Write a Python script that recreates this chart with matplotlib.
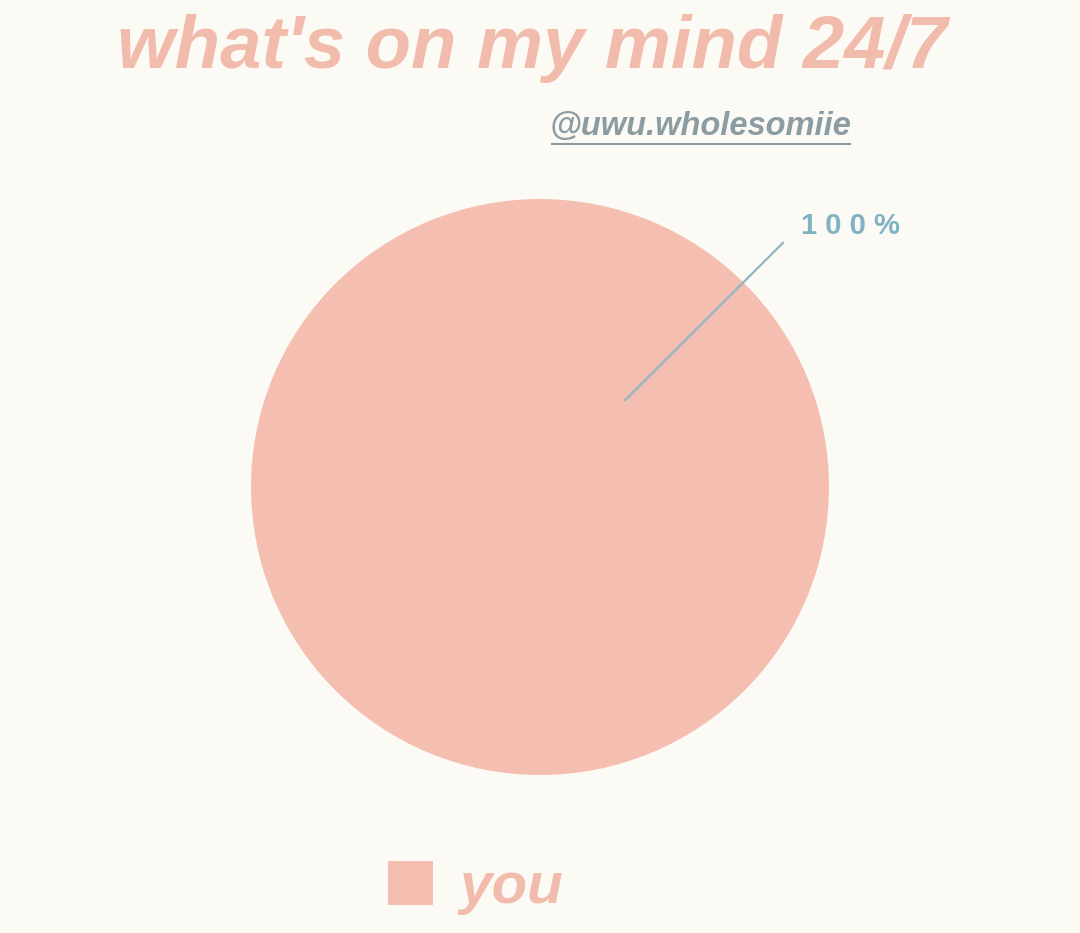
import matplotlib
matplotlib.use("Agg")
import matplotlib.pyplot as plt
from matplotlib.lines import Line2D

# data
labels = ["you"]
values = [100]
colors = ["#f4bfb1"]
title = "what's on my mind 24/7"
handle = "@uwu.wholesomiie"

bg = "#fcfaf5"
title_col = "#f2bcad"
pct_col = "#7fb2c2"
handle_col = "#8c9ca3"

plt.rcParams['font.family'] = ['Liberation Sans', 'DejaVu Sans']

fig = plt.figure(figsize=(10.8, 9.33), dpi=100, facecolor=bg)
ax = fig.add_axes([251/1080, 1-775/933, 578/1080, 576/933])
ax.set_facecolor(bg)

wedges, _ = ax.pie(values, colors=colors, startangle=90, radius=1,
                   wedgeprops=dict(linewidth=0))
ax.set_xlim(-1, 1)
ax.set_ylim(-1, 1)
ax.set_aspect('auto')
ax.axis('off')

# leader line + percent label
pct = "%d%%" % values[0]
ax.annotate("", xy=(0.294, 0.301), xytext=(0.841, 0.848),
            arrowprops=dict(arrowstyle='-', color="#8fb6c2", lw=1.6,
                            shrinkA=0, shrinkB=0),
            annotation_clip=False)
ax.text(1.073, 0.907, " ".join(pct), color=pct_col, fontsize=21,
        fontweight='bold', ha='center', va='center', clip_on=False)

fig.text(0.493, 0.927, title, ha='center', va='baseline', color=title_col,
         fontsize=53.5, fontweight='bold', fontstyle='italic')

t = fig.text(0.649, 0.855, handle, ha='center', va='baseline', color=handle_col,
             fontsize=23.5, fontweight='bold', fontstyle='italic')
fig.add_artist(Line2D([552/1080, 850/1080], [1-144/933, 1-144/933],
                      color=handle_col, lw=1.5, transform=fig.transFigure))

leg = fig.legend(wedges, labels, loc='center left',
                 bbox_to_anchor=(335/1080, 1-888/933), frameon=False,
                 prop=dict(size=42, weight='bold', style='italic'),
                 labelcolor=title_col, handlelength=0.78, handleheight=0.78,
                 handletextpad=0.45)

fig.savefig("out.png", dpi=100, facecolor=bg)
